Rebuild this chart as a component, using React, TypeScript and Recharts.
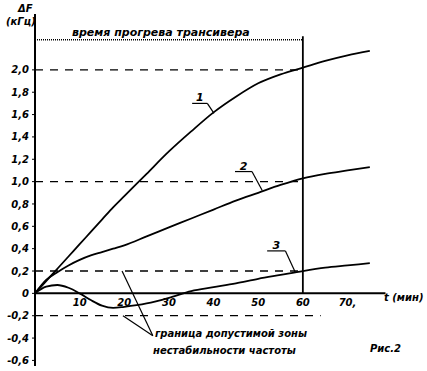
import React from 'react';
import { LineChart, Line, XAxis, YAxis, ReferenceLine, ReferenceDot } from 'recharts';

// time, min
const time = [0, 2.5, 5, 7.5, 10, 12.5, 15, 17.5, 20, 25, 30, 35, 40, 45, 50, 55, 60, 65, 70, 75];
// frequency drift, kHz
const curve1 = [0, 0.11, 0.22, 0.33, 0.44, 0.55, 0.66, 0.77, 0.87, 1.07, 1.27, 1.45, 1.62, 1.76, 1.88, 1.96, 2.02, 2.08, 2.13, 2.17];
const curve2 = [0, 0.12, 0.19, 0.25, 0.3, 0.34, 0.37, 0.4, 0.43, 0.51, 0.59, 0.67, 0.75, 0.83, 0.9, 0.97, 1.03, 1.07, 1.1, 1.13];
const curve3 = [0, 0.06, 0.075, 0.05, 0, -0.06, -0.11, -0.13, -0.12, -0.09, -0.04, 0.02, 0.055, 0.09, 0.13, 0.165, 0.2, 0.23, 0.25, 0.27];

const xTickValues = [10, 20, 30, 40, 50, 60, 70];
const xTickLabels = ['10', '20', '30', '40', '50', '60', '70,'];
const yTicks = [-0.6, -0.4, -0.2, 0, 0.2, 0.4, 0.6, 0.8, 1.0, 1.2, 1.4, 1.6, 1.8, 2.0];

const warmupEnd = 60;
const warmupLevel = 2.27;
const curveLevels = [2.0, 1.0, 0.2];
const lowerBound = -0.2;

// leader lines for curve numbers
const leaders = [
  { label: '1', x0: 35.2, x1: 38.6, x2: 40.1, y0: 1.7, y1: 1.61 },
  { label: '2', x0: 44.8, x1: 48.6, x2: 50.9, y0: 1.09, y1: 0.92 },
  { label: '3', x0: 52.0, x1: 56.1, x2: 58.3, y0: 0.38, y1: 0.19 },
];

const data = time.map((t, i) => ({ t, c1: curve1[i], c2: curve2[i], c3: curve3[i] }));

const font = "'DejaVu Sans', sans-serif";
const textStyle: React.CSSProperties = {
  position: 'absolute',
  fontFamily: font,
  fontStyle: 'italic',
  fontWeight: 'bold',
  color: '#000',
  whiteSpace: 'nowrap',
  lineHeight: 1,
};
const svgText = { fill: '#000', fontSize: 10, fontStyle: 'italic', fontWeight: 'bold', fontFamily: font };

const fmtY = (v: number) => (v === 0 ? '0' : v.toFixed(1).replace('.', ','));

export default function App() {
  return (
    <div style={{ position: 'absolute', left: 0, top: 0, width: 427, height: 371, background: '#fff' }}>
      <LineChart width={427} height={371} data={data} margin={{ top: 14, right: 17, left: 5, bottom: 5 }}>
        <XAxis type="number" dataKey="t" domain={[0, 84]} hide />
        <YAxis
          type="number"
          domain={[-0.65, 2.5]}
          ticks={yTicks}
          allowDataOverflow
          width={30}
          tickSize={3}
          tickMargin={3}
          tickFormatter={fmtY}
          axisLine={{ stroke: '#000', strokeWidth: 2 }}
          tickLine={{ stroke: '#000' }}
          tick={svgText}
        />
        {/* x axis drawn through zero */}
        <ReferenceLine segment={[{ x: 0, y: 0 }, { x: 78.5, y: 0 }]} stroke="#000" strokeWidth={2} />
        {xTickValues.map((v, i) => (
          <ReferenceDot
            key={v}
            x={v}
            y={0}
            r={0}
            fill="none"
            stroke="none"
            label={{ value: xTickLabels[i], position: 'bottom', offset: 6, ...svgText }}
          />
        ))}
        {/* warm-up period */}
        <ReferenceLine segment={[{ x: 0, y: warmupLevel }, { x: warmupEnd, y: warmupLevel }]} stroke="#000" strokeWidth={1.5} strokeDasharray="1 1" />
        <ReferenceLine segment={[{ x: warmupEnd, y: 0 }, { x: warmupEnd, y: 2.3 }]} stroke="#000" strokeWidth={1.8} />
        {curveLevels.map((lv) => (
          <ReferenceLine key={lv} segment={[{ x: 0, y: lv }, { x: warmupEnd, y: lv }]} stroke="#000" strokeWidth={1.3} strokeDasharray="8 7" />
        ))}
        <ReferenceLine segment={[{ x: 0, y: lowerBound }, { x: 64, y: lowerBound }]} stroke="#000" strokeWidth={1.3} strokeDasharray="8 7" />
        {/* zone boundary leaders */}
        <ReferenceLine segment={[{ x: 19.5, y: 0.2 }, { x: 26.4, y: -0.38 }]} stroke="#000" strokeWidth={1.2} />
        <ReferenceLine segment={[{ x: 19.7, y: -0.2 }, { x: 26.4, y: -0.38 }]} stroke="#000" strokeWidth={1.2} />
        {leaders.map((l) => (
          <React.Fragment key={l.label}>
            <ReferenceLine segment={[{ x: l.x0, y: l.y0 }, { x: l.x1, y: l.y0 }]} stroke="#000" strokeWidth={1.2} />
            <ReferenceLine segment={[{ x: l.x1, y: l.y0 }, { x: l.x2, y: l.y1 }]} stroke="#000" strokeWidth={1.2} />
            <ReferenceDot
              x={(l.x0 + l.x1) / 2}
              y={l.y0}
              r={0}
              fill="none"
              stroke="none"
              label={{ value: l.label, position: 'top', offset: 2, ...svgText, fontSize: 11 }}
            />
          </React.Fragment>
        ))}
        <Line type="monotone" dataKey="c1" stroke="#000" strokeWidth={1.8} dot={false} isAnimationActive={false} />
        <Line type="monotone" dataKey="c2" stroke="#000" strokeWidth={1.8} dot={false} isAnimationActive={false} />
        <Line type="monotone" dataKey="c3" stroke="#000" strokeWidth={1.8} dot={false} isAnimationActive={false} />
      </LineChart>
      <div style={{ ...textStyle, left: 18, top: 4, fontSize: 10 }}>ΔF</div>
      <div style={{ ...textStyle, left: 6, top: 17, fontSize: 10 }}>(кГц)</div>
      <div style={{ ...textStyle, left: 72, top: 27, fontSize: 11 }}>время прогрева трансивера</div>
      <div style={{ ...textStyle, left: 384, top: 293, fontSize: 10 }}>t (мин)</div>
      <div style={{ ...textStyle, left: 155, top: 329, fontSize: 10 }}>граница допустимой зоны</div>
      <div style={{ ...textStyle, left: 153, top: 346, fontSize: 10 }}>нестабильности частоты</div>
      <div style={{ ...textStyle, left: 370, top: 344, fontSize: 10 }}>Рис.2</div>
    </div>
  );
}
